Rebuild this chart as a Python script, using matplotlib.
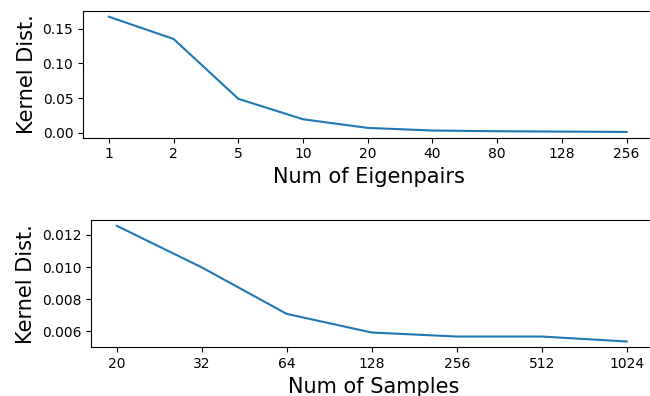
import matplotlib
matplotlib.use("Agg")
import matplotlib.pyplot as plt

eig_labels = ["1", "2", "5", "10", "20", "40", "80", "128", "256"]
eig_dist = [0.167, 0.135, 0.049, 0.0196, 0.0072, 0.0034, 0.0024, 0.0019, 0.0014]

samp_labels = ["20", "32", "64", "128", "256", "512", "1024"]
samp_dist = [0.01257, 0.00998, 0.00708, 0.00592, 0.00567, 0.00567, 0.00536]

fig = plt.figure(figsize=(6.5, 3.96), dpi=100)
# right spines of the original fall just outside the canvas
ax1 = fig.add_axes([0.1277, 0.6523, 0.8806, 0.320])
ax2 = fig.add_axes([0.1403, 0.1230, 0.8677, 0.3215])

n1 = len(eig_labels)
ax1.plot(range(n1), eig_dist)
ax1.set_xticks(range(n1))
ax1.set_xticklabels(eig_labels)
ax1.set_xlim(-0.4, (n1 - 1) + 0.445)
ax1.set_xlabel("Num of Eigenpairs", fontsize=15)
ax1.set_ylabel("Kernel Dist.", fontsize=15)
ax1.set_yticks([0.0, 0.05, 0.10, 0.15])

n2 = len(samp_labels)
ax2.plot(range(n2), samp_dist)
ax2.set_xticks(range(n2))
ax2.set_xticklabels(samp_labels)
ax2.set_xlim(-0.3, (n2 - 1) + 0.335)
ax2.set_xlabel("Num of Samples", fontsize=15)
ax2.set_ylabel("Kernel Dist.", fontsize=15)
ax2.set_yticks([0.006, 0.008, 0.010, 0.012])

fig.savefig("out.png", dpi=100)
